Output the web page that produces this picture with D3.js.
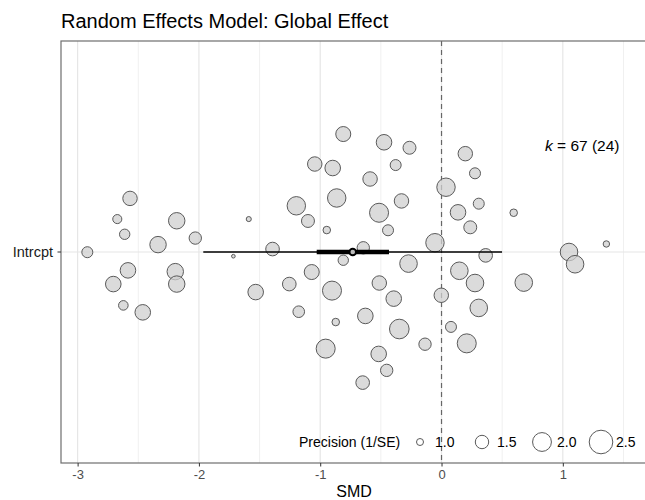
<!DOCTYPE html>
<html>
<head>
<meta charset="utf-8">
<script src="https://cdn.jsdelivr.net/npm/d3@7"></script>
<style>
  body { margin: 0; background: #fff; }
  text { font-family: "Liberation Sans", Arial, sans-serif; }
</style>
</head>
<body>
<svg width="645" height="500"></svg>
<script>
// study effects (SMD), vertical jitter and precision (1/SE)
var smd = [-2.568, -2.673, -2.612, -2.183, -2.030, -2.337, -2.920, -1.589, -1.716, -1.393,
           -2.585, -2.195, -2.706, -2.183, -2.623, -2.463, -1.532,
           -0.810, -0.474, -0.264, -1.045, -0.897, -0.378, -0.589, -1.197, -0.864, -0.330,
           -1.101, -0.515, -0.946, -0.441, -0.645, -0.810, -0.272, -1.070, -1.255, -0.903,
           -0.513, -0.394, -1.177, -0.872, -0.628, -0.348, -0.136, -0.955, -0.518, -0.452, -0.650,
           0.196, 0.276, 0.037, 0.307, 0.136, 0.595, 0.237, -0.054, 1.359, 1.051,
           0.364, 1.101, 0.147, 0.678, 0.276, -0.002, 0.307, 0.078, 0.208];
var jitter = [0.254, 0.156, 0.084, 0.148, 0.066, 0.035, -0.001, 0.156, -0.020, 0.014,
              -0.087, -0.093, -0.152, -0.152, -0.253, -0.286, -0.190,
              0.559, 0.520, 0.494, 0.417, 0.398, 0.412, 0.346, 0.219, 0.256, 0.242,
              0.147, 0.186, 0.104, 0.103, 0.020, -0.039, -0.055, -0.095, -0.152, -0.183,
              -0.147, -0.221, -0.283, -0.332, -0.303, -0.365, -0.437, -0.458, -0.483, -0.561, -0.619,
              0.466, 0.373, 0.307, 0.229, 0.188, 0.186, 0.117, 0.044, 0.038, 0.000,
              -0.016, -0.058, -0.089, -0.145, -0.147, -0.205, -0.265, -0.355, -0.433];
var precision = [1.59, 1.15, 1.25, 1.77, 1.41, 1.77, 1.30, 0.87, 0.78, 1.52,
                 1.69, 1.77, 1.69, 1.77, 1.19, 1.69, 1.69,
                 1.64, 1.69, 1.46, 1.59, 1.69, 1.30, 1.59, 1.96, 1.96, 1.59,
                 1.46, 2.02, 1.04, 1.30, 1.41, 1.25, 1.88, 1.64, 1.52, 2.02,
                 1.59, 1.69, 1.35, 1.04, 1.69, 2.08, 1.41, 2.02, 1.69, 1.41, 1.52,
                 1.59, 1.30, 1.96, 1.30, 1.69, 1.04, 1.46, 1.96, 0.96, 1.88,
                 1.52, 1.88, 1.88, 1.88, 1.88, 1.59, 1.88, 1.30, 2.02];

// pooled estimate, confidence interval, prediction interval
var pooled = -0.732;
var ci = [-1.029, -0.433];
var predInt = [-1.964, 0.499];

var xTicks = [-3, -2, -1, 0, 1];
var xMinor = [-2.5, -1.5, -0.5, 0.5, 1.5];
var legendBreaks = [1.0, 1.5, 2.0, 2.5];

var svg = d3.select("svg"),
    panelL = 61, panelR = 647, panelT = 41, panelB = 463;

var x = d3.scaleLinear().domain([-3.137, 1.694]).range([panelL, panelR]);
var y = d3.scaleLinear().domain([-1, 1]).range([panelB, panelT]);
var size = d3.scaleSqrt().domain([1, 2.5]).range([3.5, 11.8]);

// title
svg.append("text")
    .attr("x", panelL).attr("y", 28)
    .style("font-size", "20px").style("fill", "#000")
    .text("Random Effects Model: Global Effect");

// grid
var grid = svg.append("g");
grid.selectAll(".minor").data(xMinor).enter().append("line")
    .attr("x1", function(d) { return x(d); }).attr("x2", function(d) { return x(d); })
    .attr("y1", panelT).attr("y2", panelB)
    .style("stroke", "#f0f0f0").style("stroke-width", 1);
grid.selectAll(".major").data(xTicks).enter().append("line")
    .attr("x1", function(d) { return x(d); }).attr("x2", function(d) { return x(d); })
    .attr("y1", panelT).attr("y2", panelB)
    .style("stroke", "#e6e6e6").style("stroke-width", 1.2);
grid.append("line")
    .attr("x1", panelL).attr("x2", panelR).attr("y1", y(0)).attr("y2", y(0))
    .style("stroke", "#e6e6e6").style("stroke-width", 1.2);

// reference line at zero
svg.append("line")
    .attr("x1", x(0)).attr("x2", x(0)).attr("y1", panelT).attr("y2", panelB)
    .style("stroke", "#666").style("stroke-width", 1.2).style("stroke-dasharray", "5,4");

// study points
var pts = d3.range(smd.length).map(function(i) {
  return { smd: smd[i], jit: jitter[i], prec: precision[i] };
});
svg.append("g").selectAll("circle")
    .data(pts).enter().append("circle")
    .attr("cx", function(d) { return x(d.smd); })
    .attr("cy", function(d) { return y(d.jit); })
    .attr("r", function(d) { return size(d.prec); })
    .style("fill", "#cfcfcf").style("fill-opacity", 0.75)
    .style("stroke", "#5a5a5a").style("stroke-width", 1);

// prediction interval, confidence interval, pooled estimate
svg.append("line")
    .attr("x1", x(predInt[0])).attr("x2", x(predInt[1])).attr("y1", y(0)).attr("y2", y(0))
    .style("stroke", "#000").style("stroke-width", 1.6);
svg.append("line")
    .attr("x1", x(ci[0])).attr("x2", x(ci[1])).attr("y1", y(0)).attr("y2", y(0))
    .style("stroke", "#000").style("stroke-width", 4.5);
svg.append("circle")
    .attr("cx", x(pooled)).attr("cy", y(0)).attr("r", 3.3)
    .style("fill", "#bbb").style("stroke", "#000").style("stroke-width", 2);

// panel border (right side runs off the page)
svg.append("rect")
    .attr("x", panelL).attr("y", panelT).attr("width", panelR - panelL).attr("height", panelB - panelT)
    .style("fill", "none").style("stroke", "#6e6e6e").style("stroke-width", 1.2);

// x axis
var xAxis = svg.append("g").attr("transform", "translate(0," + panelB + ")")
    .call(d3.axisBottom(x).tickValues(xTicks).tickSize(3.5).tickPadding(3)
      .tickFormat(function(d) { return String(d); }));
xAxis.select(".domain").remove();
xAxis.selectAll("line").style("stroke", "#333");
xAxis.selectAll("text").style("font-size", "13px").style("fill", "#4d4d4d")
    .style("font-family", "Liberation Sans, Arial, sans-serif");

svg.append("text")
    .attr("x", (panelL + panelR) / 2).attr("y", 497)
    .attr("text-anchor", "middle")
    .style("font-size", "16px").style("fill", "#000")
    .text("SMD");

// y axis
svg.append("line")
    .attr("x1", panelL - 3.5).attr("x2", panelL).attr("y1", y(0)).attr("y2", y(0))
    .style("stroke", "#333");
svg.append("text")
    .attr("x", panelL - 8).attr("y", y(0)).attr("dy", "0.35em")
    .attr("text-anchor", "end")
    .style("font-size", "14.5px").style("fill", "#1a1a1a")
    .text("Intrcpt");

// k annotation
var k = svg.append("text")
    .attr("x", 545).attr("y", 151)
    .style("font-size", "15.5px").style("fill", "#000");
k.append("tspan").style("font-style", "italic").text("k");
k.append("tspan").text(" = 67 (24)");

// legend
svg.append("text")
    .attr("x", 299).attr("y", 442).attr("dy", "0.35em")
    .style("font-size", "14px").style("fill", "#000")
    .text("Precision (1/SE)");
var legX = [420, 482, 542, 601];
var leg = svg.append("g").selectAll("g")
    .data(legendBreaks).enter().append("g")
    .attr("transform", function(d, i) { return "translate(" + legX[i] + ",442)"; });
leg.append("circle")
    .attr("r", function(d) { return size(d); })
    .style("fill", "none").style("stroke", "#5a5a5a").style("stroke-width", 1);
leg.append("text")
    .attr("x", 15).attr("dy", "0.35em")
    .style("font-size", "14px").style("fill", "#000")
    .text(function(d) { return d3.format(".1f")(d); });
</script>
</body>
</html>
